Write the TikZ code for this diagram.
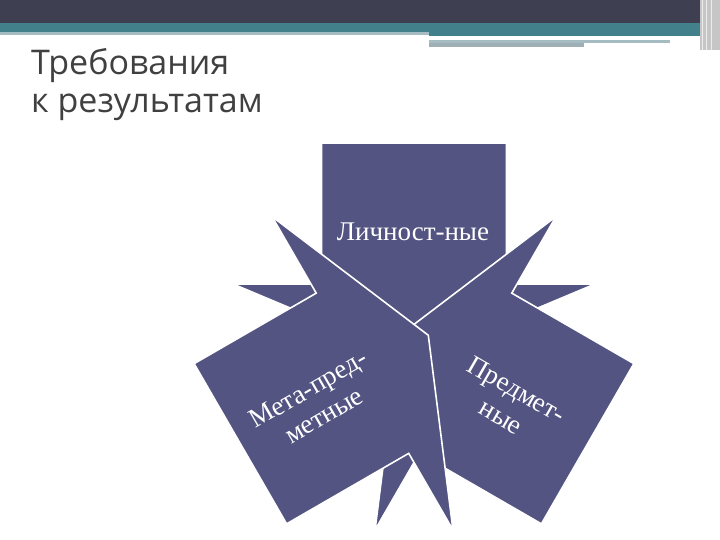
\documentclass[tikz,border=0pt]{standalone}
\usepackage{fontspec}
\setmainfont{Liberation Serif}
\newfontfamily\titlefont{Open Sans}
\definecolor{slate}{RGB}{83,84,130}
\definecolor{headdark}{RGB}{62,64,82}
\definecolor{headteal}{RGB}{66,128,140}
\definecolor{headpale}{RGB}{165,188,194}
\definecolor{titlegrey}{RGB}{64,64,64}

\begin{document}
\begin{tikzpicture}[x=1pt,y=-1pt]
		\tikzstyle{block}=[fill=slate,draw=white,line width=1.6pt,line join=miter]
		\tikzstyle{blocktext}=[text=white,align=center,inner sep=1pt,font=\fontsize{27}{31}\selectfont]
		\useasboundingbox (0,0) rectangle (720,540);
		\fill[white] (0,0) rectangle (720,540);

		% header bars
		\fill[headdark] (0,0) rectangle (700,23);
		\fill[headteal] (0,23) rectangle (700,32);
		\fill[headpale] (0,32) rectangle (429,35);
		\fill[headteal] (429,32) rectangle (700,36);
		\fill[headpale] (429,40) rectangle (670,43);
		\fill[headpale!80!gray] (429,43) rectangle (584,47);
		\fill[gray!45] (700,0) rectangle (720,50);
		\foreach \x in {702,706,711}
			\draw[white!85!gray,line width=1pt] (\x,0) -- (\x,50);

		\node[anchor=base west,align=left,inner sep=0,text=titlegrey,
			font=\titlefont\fontsize{34}{38}\selectfont] (title) at (31,113) {Требования\\к результатам};

		% three arrows pointing in
		\coordinate (centre) at (414,343.5);
		\foreach \ang in {0,-120,120}
			\draw[block,shift={(centre)},rotate=\ang] (-92.5,-200.5) -- (92.5,-200.5) -- (92.5,-59.5)
				-- (181,-59.5) -- (0,16.5) -- (-181,-59.5) -- (-92.5,-59.5) -- cycle;

		\node[blocktext] (personal) at (413,232) {Личност-ные};
		\node[blocktext,rotate=30] (metasubject) at (316,402) {Мета-пред-\\метные};
		\node[blocktext,rotate=-30] (subject) at (509,403) {Предмет-\\ные};
	\end{tikzpicture}
\end{document}
